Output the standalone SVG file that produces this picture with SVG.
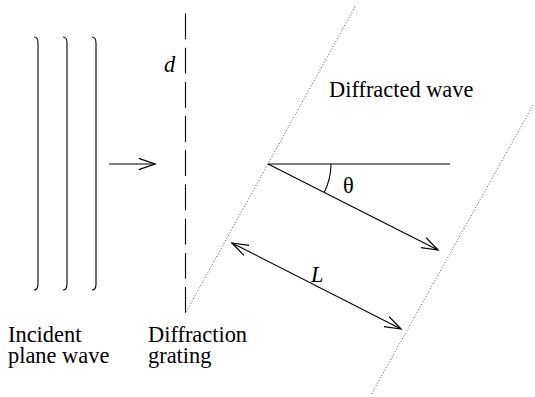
<svg xmlns="http://www.w3.org/2000/svg" width="535" height="397" viewBox="0 0 535 397">
<style>
.ln{stroke:#000;stroke-width:1.1;fill:none}
.dot{stroke:#555;stroke-width:1;stroke-dasharray:1 2;fill:none}
.t{font-family:'Liberation Serif','Times New Roman',serif;font-size:22.4px;fill:#000}
.it{font-style:italic}
</style>
<defs>
<marker id="ah" markerUnits="userSpaceOnUse" markerWidth="20" markerHeight="20" viewBox="-14 -7 16 14" refX="0" refY="0" orient="auto-start-reverse">
<path d="M-13,-4.5 L0,0 L-13,4.5" fill="none" stroke="#000" stroke-width="1"/>
</marker>
</defs>
<g id="incident-wave">
<path class="ln" d="M34,37 q4,0 4,6 V284 q0,6 -4,6"/>
<path class="ln" d="M63,37 q4,0 4,6 V284 q0,6 -4,6"/>
<path class="ln" d="M92,37 q4,0 4,6 V284 q0,6 -4,6"/>
</g>
<g id="grating">
<line class="ln" x1="185.5" y1="13.5" x2="185.5" y2="312.7" stroke-dasharray="25.8 8.4"/>
</g>
<g id="wavefronts">
<line class="dot" x1="186" y1="312" x2="356" y2="5"/>
<line class="dot" x1="533" y1="105" x2="371" y2="395"/>
</g>
<g id="connectors">
<line class="ln" x1="109" y1="164" x2="155" y2="164" marker-end="url(#ah)"/>
<line class="ln" x1="268" y1="164" x2="450" y2="164"/>
<line class="ln" x1="268" y1="164" x2="438" y2="250" marker-end="url(#ah)"/>
<line class="ln" x1="232" y1="243" x2="401" y2="329" marker-start="url(#ah)" marker-end="url(#ah)"/>
<path class="ln" d="M331,164 A63,63 0 0 1 324.2,192.4"/>
</g>
<g id="labels">
<text class="t it" x="164" y="72">d</text>
<text class="t" x="343" y="193">θ</text>
<text class="t it" x="311" y="282">L</text>
<text class="t" x="329" y="97">Diffracted wave</text>
<text class="t" x="8" y="342">Incident</text>
<text class="t" x="8" y="363">plane wave</text>
<text class="t" x="148" y="342">Diffraction</text>
<text class="t" x="148" y="363">grating</text>
</g>
</svg>
